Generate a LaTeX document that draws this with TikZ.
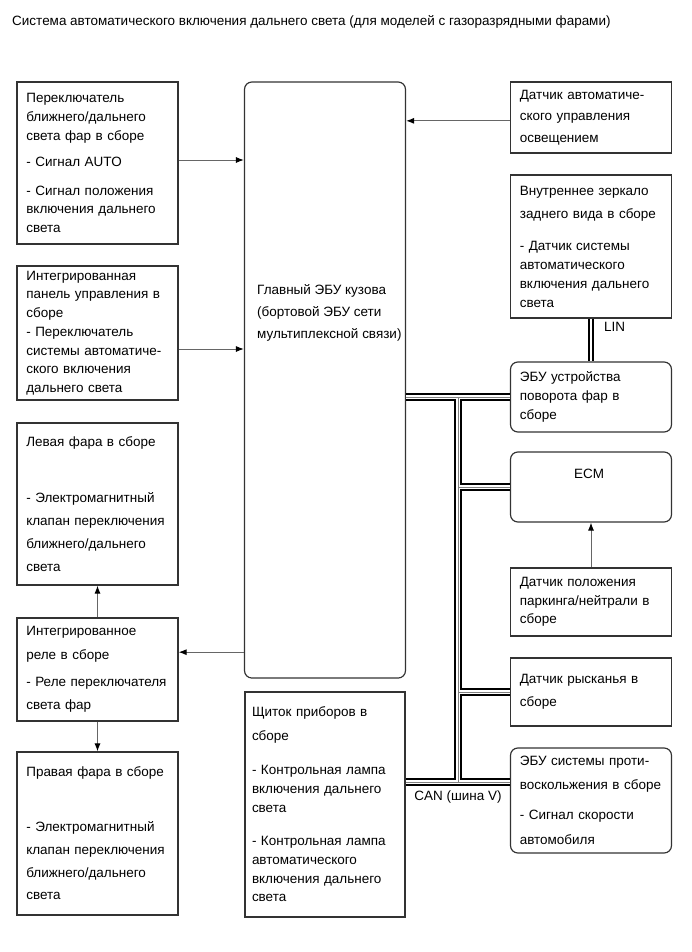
\documentclass[tikz,border=0pt]{standalone}
\usepackage{fontspec}
\setmainfont{Liberation Sans}
\usetikzlibrary{arrows.meta, positioning, calc}

\begin{document}
\begin{tikzpicture}[
    x=0.03cm, y=-0.03cm,
    every node/.style={font=\fontsize{11.5}{16}\selectfont},
    block/.style={draw=black!80, line width=1pt, align=left, inner xsep=0.28cm, inner ysep=0pt, minimum width=4.83cm, text width=4.27cm},
    rblock/.style={block, rounded corners=0.22cm},
    plain/.style={inner sep=0pt, align=left},
    arrow/.style={-{Latex[length=2.4mm, width=1.8mm, color=black]}, draw=black!60, line width=0.8pt},
    lin/.style={double, double distance=2.2pt, line width=1.4pt}
]
\useasboundingbox (0,0) rectangle (691,952);

\node[plain, anchor=west] (title) at (12,22) {Система автоматического включения дальнего света (для моделей с газоразрядными фарами)};

% left column
\node[block, minimum height=4.86cm] (sw) at (97.5,163) {Переключатель\\ ближнего/дальнего\\ света фар в сборе\\[7pt] - Сигнал AUTO\\[8pt] - Сигнал положения\\ включения дальнего\\ света};
\node[block, minimum height=4.02cm] (panel) at (97.5,333) {Интегрированная\\ панель управления в\\ сборе\\ - Переключатель\\ системы автоматиче-\\ ского включения\\ дальнего света};
\node[block, minimum height=4.86cm] (lhead) at (97.5,504) {Левая фара в сборе\\[32pt] - Электромагнитный\\[3.5pt] клапан переключения\\[3.5pt] ближнего/дальнего\\[3.5pt] света};
\node[block, minimum height=3.09cm] (relay) at (97.5,669.5) {Интегрированное\\[4pt] реле в сборе\\[7pt] - Реле переключателя\\[4pt] света фар};
\node[block, minimum height=4.89cm] (rhead) at (97.5,833.5) {Правая фара в сборе\\[30.5pt] - Электромагнитный\\[3.5pt] клапан переключения\\[3.5pt] ближнего/дальнего\\[3.5pt] света};

% middle column
\node[rblock, minimum width=4.8cm, minimum height=17.88cm] (main) at (325,380) {};
\node[plain, anchor=west] (mainlbl) at (257,313) {Главный ЭБУ кузова\\[3pt] (бортовой ЭБУ сети\\[3pt] мультиплексной связи)};
\node[block, minimum width=4.8cm, text width=4.38cm, inner xsep=0.21cm, minimum height=6.75cm] (meter) at (325,804.5) {Щиток приборов в\\[4pt] сборе\\[13.5pt] - Контрольная лампа\\ включения дальнего\\ света\\[12.5pt] - Контрольная лампа\\ автоматического\\ включения дальнего\\ света};

% right column
\node[block, minimum height=2.13cm] (lsens) at (591,117.5) {Датчик автоматиче-\\[2.3pt] ского управления\\[2.3pt] освещением};
\node[block, minimum height=4.29cm] (mirror) at (591,246.5) {Внутреннее зеркало\\[4pt] заднего вида в сборе\\[11.5pt] - Датчик системы\\ автоматического\\ включения дальнего\\ света};
\node[rblock, minimum height=2.1cm] (swivel) at (591,397) {ЭБУ устройства\\ поворота фар в\\ сборе};
\node[rblock, minimum height=2.1cm] (ecm) at (591,487) {};
\node[plain] (ecmlbl) at (589,474) {ECM};
\node[block, minimum height=2.04cm] (pns) at (591,602) {Датчик положения\\ паркинга/нейтрали в\\ сборе};
\node[block, minimum height=2.04cm] (yaw) at (591,692) {Датчик рысканья в\\[4pt] сборе};
\node[rblock, minimum height=3.15cm] (vsc) at (591,800.5) {ЭБУ системы проти-\\[4pt] воскольжения в сборе\\[10pt] - Сигнал скорости\\[5pt] автомобиля};

% CAN bus
\coordinate (ja) at (458,397);
\coordinate (jb) at (458,782);
\foreach \w/\c in {6pt/black, 3.2pt/white, 0.7pt/black!50} {
  \draw[line width=\w, \c] (main.east |- ja) -- (swivel.west |- ja)
    (ja) -- (jb)
    (ja |- ecm.west) -- (ecm.west)
    (ja |- yaw.west) -- (yaw.west)
    (meter.east |- jb) -- (vsc.west |- jb);
}
\node[plain] (canlbl) at (458,797) {CAN (шина V)};

% LIN
\draw[lin] (mirror.south) -- (swivel.north);
\node[plain, anchor=west] (linlbl) at (604,327) {LIN};

% signals
\draw[arrow] ([yshift=0.09cm]sw.east) -- ([yshift=0.09cm]sw.east -| main.west);
\draw[arrow] ([yshift=-0.48cm]panel.east) -- ([yshift=-0.48cm]panel.east -| main.west);
\draw[arrow] ([yshift=-0.1cm]lsens.west) -- ([yshift=-0.1cm]lsens.west -| main.east);
\coordinate (rin) at ([yshift=0.52cm]relay.east);
\draw[arrow] (main.west |- rin) -- (rin);
\draw[arrow] (relay.north) -- (lhead.south);
\draw[arrow] (relay.south) -- (rhead.north);
\draw[arrow] (pns.north) -- (ecm.south);
\end{tikzpicture}
\end{document}
